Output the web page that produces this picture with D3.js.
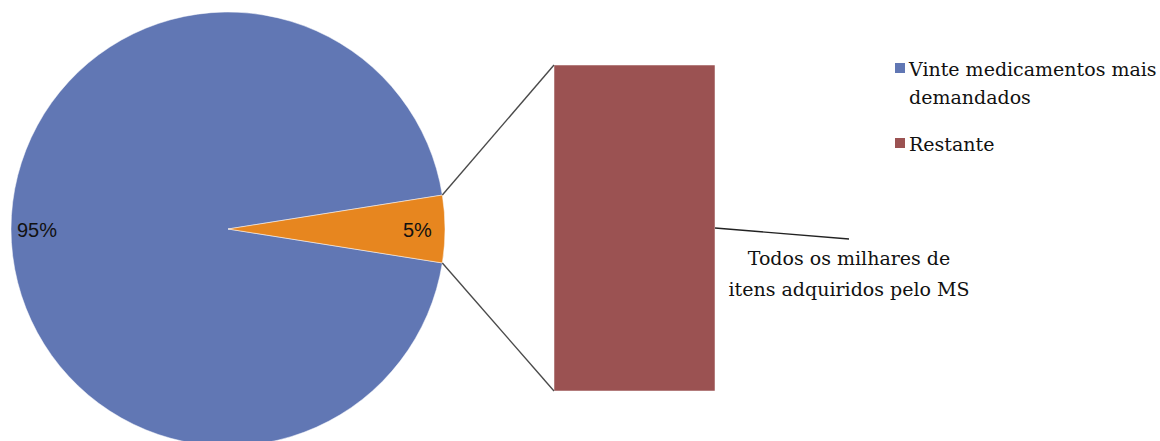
<!DOCTYPE html>
<html>
<head>
<meta charset="utf-8">
<script src="https://cdn.jsdelivr.net/npm/d3@7"></script>
<style>
  body { margin: 0; background: #fff; }
  svg { display: block; }
</style>
</head>
<body>
<script>
// data
var categories = ["Vinte medicamentos mais demandados", "Restante"];
var pieValues = [95, 5];
var pieLabels = ["95%", "5%"];
var barItems = ["Todos os milhares de itens adquiridos pelo MS"];
var barValues = [5];
var legendLines = [["Vinte medicamentos mais", "demandados"], ["Restante"]];
var barLabelLines = ["Todos os milhares de", "itens adquiridos pelo MS"];

var width = 1160, height = 441;
var colors = ["#6177b4", "#e7861f"];
var barColor = "#9b5252";

var svg = d3.select("body").append("svg")
    .attr("width", width)
    .attr("height", height);

// pie
var cx = 228, cy = 229, r = 217;
var half = Math.PI / 180 * 9; // 5% slice = 18deg, centred on the right
var pie = d3.pie().sort(null)
    .startAngle(Math.PI / 2 + half)
    .endAngle(Math.PI / 2 + half + 2 * Math.PI);
var arcs = pie(pieValues);
var arc = d3.arc().innerRadius(0).outerRadius(r);

var g = svg.append("g").attr("transform", "translate(" + cx + "," + cy + ")");
g.selectAll("path.slice")
    .data(arcs)
    .enter().append("path")
    .attr("class", "slice")
    .attr("d", arc)
    .attr("fill", function (d, i) { return colors[i]; })
    .attr("stroke", "#fff")
    .attr("stroke-width", 0.5);

// percent labels
var labelPos = [[-211, 8], [175, 8]];
g.selectAll("text.pct")
    .data(pieLabels)
    .enter().append("text")
    .attr("class", "pct")
    .attr("x", function (d, i) { return labelPos[i][0]; })
    .attr("y", function (d, i) { return labelPos[i][1]; })
    .style("font-family", "'Liberation Sans', Arial, sans-serif")
    .style("font-size", "20px")
    .attr("fill", "#111")
    .text(function (d) { return d; });

// bar for the second part
var barX = 554, barW = 161;
var y = d3.scaleLinear().domain([0, d3.sum(barValues)]).range([391, 65]);
var stacked = [];
var acc = 0;
barValues.forEach(function (v) { stacked.push([acc, acc + v]); acc += v; });
svg.selectAll("rect.bar")
    .data(stacked)
    .enter().append("rect")
    .attr("class", "bar")
    .attr("x", barX)
    .attr("width", barW)
    .attr("y", function (d) { return y(d[1]); })
    .attr("height", function (d) { return y(d[0]) - y(d[1]); })
    .attr("fill", barColor)
    .attr("stroke", "#fff")
    .attr("stroke-width", 0.5);

// connector lines from slice edges to bar corners
var small = arcs[1];
function edge(a) { return [cx + r * Math.sin(a), cy - r * Math.cos(a)]; }
var p1 = edge(small.startAngle), p2 = edge(small.endAngle);
var barTop = y(d3.sum(barValues)), barBottom = y(0);
svg.append("line")
    .attr("x1", p1[0]).attr("y1", p1[1])
    .attr("x2", barX).attr("y2", barTop)
    .attr("stroke", "#4a4a4a").attr("stroke-width", 1.4);
svg.append("line")
    .attr("x1", p2[0]).attr("y1", p2[1])
    .attr("x2", barX).attr("y2", barBottom)
    .attr("stroke", "#4a4a4a").attr("stroke-width", 1.4);

// bar label with leader
var midY = y((stacked[0][0] + stacked[0][1]) / 2);
svg.append("line")
    .attr("x1", barX + barW).attr("y1", midY)
    .attr("x2", 849).attr("y2", midY + 11)
    .attr("stroke", "#222").attr("stroke-width", 1.3);

var serif = "'DejaVu Serif', 'Liberation Serif', serif";
svg.append("text")
    .attr("x", 849).attr("y", 265)
    .attr("text-anchor", "middle")
    .style("font-family", serif).style("font-size", "19px")
    .attr("fill", "#111")
    .selectAll("tspan")
    .data(barLabelLines)
    .enter().append("tspan")
    .attr("x", 849)
    .attr("dy", function (d, i) { return i ? 31 : 0; })
    .text(function (d) { return d; });

// legend
var legendY = [63, 138];
var leg = svg.selectAll("g.leg")
    .data(categories)
    .enter().append("g")
    .attr("class", "leg")
    .attr("transform", function (d, i) { return "translate(895," + legendY[i] + ")"; });
leg.append("rect")
    .attr("width", 10).attr("height", 10)
    .attr("fill", function (d, i) { return i ? barColor : colors[0]; });
leg.append("text")
    .style("font-family", serif).style("font-size", "19px")
    .attr("fill", "#111")
    .selectAll("tspan")
    .data(function (d, i) { return legendLines[i]; })
    .enter().append("tspan")
    .attr("x", 14)
    .attr("y", function (d, i) { return 13 + i * 28; })
    .text(function (d) { return d; });
</script>
</body>
</html>
